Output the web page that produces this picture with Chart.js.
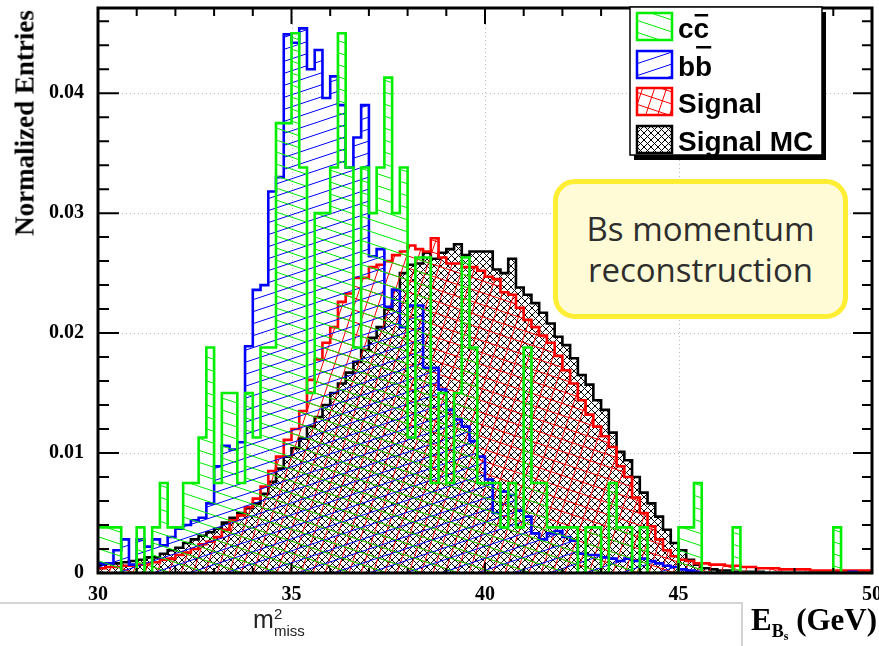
<!DOCTYPE html>
<html>
<head>
<meta charset="utf-8">
<script src="https://cdn.jsdelivr.net/npm/chart.js@4.4.1/dist/chart.umd.min.js"></script>
<style>
  html, body { margin: 0; padding: 0; background: #fff; }
  #wrap { position: relative; width: 879px; height: 646px; overflow: hidden; background: #fff; }
  #myChart { position: absolute; left: 0; top: 0; }
  .ytitle { position: absolute; left: 25px; top: 123px; transform: translate(-50%, -50%) rotate(-90deg);
            font: bold 27px "Liberation Serif", serif; white-space: nowrap; color: #000; }
  .xtitle { position: absolute; left: 751px; top: 602px; font: bold 31px "Liberation Serif", serif; white-space: nowrap; color: #000; }
  .xtitle .sub { font-size: 18px; position: relative; top: 7px; }
  .xtitle .sub2 { font-size: 12px; position: relative; top: 3px; }
  .mmiss { position: absolute; left: 253px; top: 605px; font: 25px "Liberation Sans", sans-serif; color: #222; }
  .mmiss .sup { position: absolute; left: 21px; top: 0px; font-size: 15px; }
  .mmiss .sub { position: absolute; left: 21px; top: 17px; font-size: 15px; }
  .hline { position: absolute; left: 0; top: 602px; width: 741px; height: 2px; background: #d4d4d4; }
  .vline { position: absolute; left: 741px; top: 602px; width: 2px; height: 44px; background: #d4d4d4; }
  .note { position: absolute; left: 553px; top: 179px; width: 285px; height: 130px; border: 5px solid #ffee33;
          border-radius: 22px; background: #fffbd6; display: flex; align-items: center; justify-content: center;
          text-align: center; font: 33px "Open Sans", sans-serif; line-height: 41px; color: #2e2e2e; }
</style>
</head>
<body>
<div id="wrap">
  <canvas id="myChart" width="879" height="646"></canvas>
  <div class="ytitle">Normalized Entries</div>
  <div class="hline"></div>
  <div class="vline"></div>
  <div class="mmiss">m<span class="sup">2</span><span class="sub">miss</span></div>
  <div class="xtitle">E<span class="sub">B<span class="sub2">s</span></span> (GeV)</div>
  <div class="note">Bs momentum<br>reconstruction</div>
</div>
<script>
// histogram binning: 100 bins of 0.2 GeV from 30 to 50
const binStart = 30;
const binWidth = 0.2;

const xTicks = [30, 35, 40, 45, 50];
const yTicks = [0, 0.01, 0.02, 0.03, 0.04];
const yTickLabels = ['0', '0.01', '0.02', '0.03', '0.04'];

const ccbar = [
    0.0038, 0.0038, 0.0038, 0, 0, 0.0038, 0, 0.0038, 0.0075, 0.0038,
    0.0038, 0.0075, 0.0075, 0.0113, 0.0188, 0.0075, 0.015, 0.015, 0.0075, 0.015,
    0.0113, 0.0188, 0.0188, 0.0375, 0.0375, 0.045, 0.0338, 0.015, 0.03, 0.03,
    0.0338, 0.045, 0.0338, 0.0188, 0.0338, 0.03, 0.0338, 0.0413, 0.03, 0.0338,
    0.0113, 0.0263, 0.0263, 0.0075, 0.015, 0.0075, 0.015, 0.0263, 0.0188, 0.0075,
    0.0075, 0.0075, 0.0038, 0.0075, 0.0038, 0.0188, 0.0075, 0.0075, 0.0038, 0.0038,
    0.0038, 0.0038, 0, 0.0038, 0.0038, 0, 0.0075, 0.0038, 0.0038, 0,
    0.0038, 0, 0, 0, 0, 0.0038, 0.0038, 0.0075, 0, 0,
    0, 0, 0.0038, 0, 0, 0, 0, 0, 0, 0,
    0, 0, 0, 0, 0, 0.0038, 0, 0, 0, 0
];

const bbbar = [
    0.0008, 0.0008, 0.0019, 0.0028, 0.0007, 0.0028, 0.0022, 0.0028, 0.0023, 0.003,
    0.0037, 0.004, 0.0044, 0.0046, 0.0058, 0.0089, 0.0106, 0.0103, 0.0109, 0.0189,
    0.0236, 0.024, 0.0318, 0.033, 0.0449, 0.0442, 0.0454, 0.042, 0.0436, 0.0396,
    0.0414, 0.039, 0.0338, 0.0363, 0.039, 0.0264, 0.027, 0.0222, 0.0236, 0.0205,
    0.0223, 0.0223, 0.0171, 0.0171, 0.0153, 0.0136, 0.0128, 0.0122, 0.011, 0.0097,
    0.0078, 0.005, 0.0068, 0.0065, 0.0052, 0.0047, 0.0033, 0.0028, 0.0033, 0.0035,
    0.003, 0.0027, 0.0016, 0.0015, 0.0015, 0.0013, 0.0012, 0.001, 0.0012, 0.001,
    0.0012, 0.001, 0.0008, 0.0006, 0.0005, 0.0003, 0.0002, 0.0001, 0, 0,
    0, 0, 0, 0, 0, 0, 0, 0, 0, 0,
    0, 0, 0, 0, 0, 0, 0, 0.0001, 0, 0
];

const signal = [
    0.0004, 0.0005, 0.0005, 0.0006, 0.0006, 0.0007, 0.0008, 0.0009, 0.0011, 0.0012,
    0.0015, 0.0017, 0.002, 0.0024, 0.0026, 0.003, 0.0036, 0.0044, 0.0048, 0.0055,
    0.0062, 0.0072, 0.0085, 0.0097, 0.0111, 0.012, 0.0135, 0.0161, 0.0178, 0.0192,
    0.0205, 0.0226, 0.0233, 0.0246, 0.0246, 0.0255, 0.0257, 0.026, 0.0265, 0.0268,
    0.0273, 0.027, 0.0268, 0.0279, 0.0263, 0.0258, 0.0258, 0.0255, 0.0255, 0.0252,
    0.0247, 0.0245, 0.0234, 0.0232, 0.0221, 0.0211, 0.0205, 0.0198, 0.0192, 0.0181,
    0.0169, 0.0158, 0.0144, 0.0132, 0.0122, 0.0114, 0.0105, 0.0089, 0.008, 0.0063,
    0.005, 0.0039, 0.0028, 0.0019, 0.0014, 0.0011, 0.001, 0.0008, 0.0008, 0.0007,
    0.0007, 0.0006, 0.0006, 0.0005, 0.0005, 0.0004, 0.0004, 0.0004, 0.0003, 0.0003,
    0.0003, 0.0003, 0.0002, 0.0002, 0.0002, 0.0002, 0.0002, 0.0002, 0.0002, 0.0002
];

const signalMC = [
    0.0007, 0.0008, 0.0008, 0.0009, 0.001, 0.0011, 0.0013, 0.0013, 0.0016, 0.0019,
    0.0021, 0.0025, 0.0028, 0.0031, 0.0034, 0.0037, 0.0042, 0.0046, 0.005, 0.0054,
    0.0058, 0.0066, 0.0076, 0.0087, 0.0097, 0.0104, 0.0112, 0.0122, 0.013, 0.014,
    0.015, 0.0158, 0.0167, 0.0176, 0.0186, 0.0196, 0.0205, 0.022, 0.0236, 0.025,
    0.0257, 0.0258, 0.0267, 0.0262, 0.0267, 0.027, 0.0274, 0.0265, 0.0268, 0.0268,
    0.0268, 0.0253, 0.025, 0.0262, 0.0238, 0.0232, 0.0225, 0.0217, 0.0208, 0.0197,
    0.019, 0.0179, 0.0165, 0.0157, 0.0144, 0.0136, 0.0117, 0.0101, 0.0094, 0.008,
    0.0067, 0.0058, 0.0047, 0.0036, 0.0025, 0.0019, 0.0011, 0.0007, 0.0004, 0.0003,
    0.0002, 0.0002, 0.0001, 0.0001, 0.0001, 0.0001, 0, 0, 0, 0,
    0, 0, 0, 0, 0, 0, 0, 0, 0, 0
];

const GREEN = '#00ee00';
const BLUE = '#0000ff';
const RED = '#ff0000';
const BLACK = '#000000';

// hatch fills like ROOT fill styles
function makePattern(w, h, color, lw, draw) {
    const c = document.createElement('canvas');
    c.width = w;
    c.height = h;
    const g = c.getContext('2d');
    g.strokeStyle = color;
    g.lineWidth = lw;
    g.beginPath();
    draw(g, w, h);
    g.stroke();
    return g.createPattern(c, 'repeat');
}

const greenFill = makePattern(36, 12, GREEN, 1, (g, w, h) => {
    for (let k = -1; k <= 1; k++) { g.moveTo(0, k * h); g.lineTo(w, h + k * h); }
});
const blueFill = makePattern(36, 12, BLUE, 1, (g, w, h) => {
    for (let k = -1; k <= 1; k++) { g.moveTo(0, h + k * h); g.lineTo(w, k * h); }
});
const redFill = makePattern(36, 36, RED, 1, (g, w, h) => {
    for (let b = -12; b <= 36; b += 12) { g.moveTo(0, b); g.lineTo(36, b + 12); }
    for (let c = 0; c <= 48; c += 12) { g.moveTo(c, 0); g.lineTo(c - 12, 36); }
});
const blackFill = makePattern(7, 7, BLACK, 1, (g, w, h) => {
    g.moveTo(-1, -1); g.lineTo(8, 8);
    g.moveTo(-1, 8); g.lineTo(8, -1);
});

function toSteps(values) {
    const pts = values.map((v, i) => ({ x: binStart + i * binWidth, y: v }));
    pts.push({ x: binStart + values.length * binWidth, y: values[values.length - 1] });
    return pts;
}

function histo(label, values, color, fill) {
    return {
        label: label,
        data: toSteps(values),
        stepped: 'before',
        borderColor: color,
        borderWidth: 2.6,
        backgroundColor: fill,
        fill: 'origin',
        pointRadius: 0,
        tension: 0
    };
}

const framePlugin = {
    id: 'rootFrame',
    beforeDatasetsDraw(chart) {
        const { ctx, chartArea: a, scales: { x, y } } = chart;
        ctx.save();
        ctx.strokeStyle = '#b8b8b8';
        ctx.lineWidth = 1;
        ctx.setLineDash([1, 3]);
        yTicks.slice(1).forEach(v => {
            const py = Math.round(y.getPixelForValue(v)) + 0.5;
            ctx.beginPath(); ctx.moveTo(a.left, py); ctx.lineTo(a.right, py); ctx.stroke();
        });
        xTicks.slice(1, -1).forEach(v => {
            const px = Math.round(x.getPixelForValue(v)) + 0.5;
            ctx.beginPath(); ctx.moveTo(px, a.top); ctx.lineTo(px, a.bottom); ctx.stroke();
        });
        ctx.restore();
    },
    afterDatasetsDraw(chart) {
        const { ctx, chartArea: a, scales: { x, y } } = chart;
        ctx.save();
        ctx.strokeStyle = '#000';
        ctx.lineWidth = 2;
        ctx.beginPath();
        // y ticks, left and right
        for (let v = 0; v <= y.max + 1e-9; v += 0.002) {
            const major = Math.abs(v / 0.01 - Math.round(v / 0.01)) < 1e-6;
            const py = y.getPixelForValue(v);
            ctx.moveTo(a.left, py); ctx.lineTo(a.left + (major ? 21 : 11), py);
            ctx.moveTo(a.right, py); ctx.lineTo(a.right - (major ? 19 : 10), py);
        }
        // x ticks, top and bottom
        for (let v = x.min; v <= x.max + 1e-9; v += 1) {
            const major = v % 5 === 0;
            const px = x.getPixelForValue(v);
            ctx.moveTo(px, a.top); ctx.lineTo(px, a.top + (major ? 16 : 8));
            ctx.moveTo(px, a.bottom); ctx.lineTo(px, a.bottom - (major ? 10 : 5));
        }
        ctx.stroke();
        ctx.lineWidth = 3;
        ctx.strokeRect(a.left, a.top, a.right - a.left, a.bottom - a.top);
        ctx.restore();
    },
    afterDraw(chart) {
        const ctx = chart.ctx;
        ctx.save();
        // legend box with shadow
        ctx.fillStyle = '#000';
        ctx.fillRect(634, 12, 192, 148);
        ctx.fillStyle = '#fff';
        ctx.fillRect(630, 7, 192, 148);
        ctx.strokeStyle = '#000';
        ctx.lineWidth = 1.5;
        ctx.strokeRect(630, 7, 192, 148);

        const rows = [
            { top: 13, color: GREEN, fill: greenFill, text: 'c', bar: 'c' },
            { top: 51, color: BLUE, fill: blueFill, text: 'b', bar: 'b' },
            { top: 88, color: RED, fill: redFill, text: 'Signal' },
            { top: 126, color: BLACK, fill: blackFill, text: 'Signal MC' }
        ];
        ctx.font = 'bold 28px "Liberation Sans", sans-serif';
        ctx.textBaseline = 'alphabetic';
        rows.forEach(r => {
            ctx.fillStyle = '#fff';
            ctx.fillRect(637, r.top, 35, 27);
            ctx.fillStyle = r.fill;
            ctx.fillRect(637, r.top, 35, 27);
            ctx.strokeStyle = r.color;
            ctx.lineWidth = 2.5;
            ctx.strokeRect(637, r.top, 35, 27);
            ctx.fillStyle = '#000';
            const base = r.top + 25;
            ctx.fillText(r.text, 678, base);
            if (r.bar) {
                const w1 = ctx.measureText(r.text).width;
                const w2 = ctx.measureText(r.bar).width;
                ctx.fillText(r.bar, 678 + w1, base);
                const oy = r.bar === 'c' ? base - 24 : base - 30;
                ctx.fillRect(678 + w1 + 1, oy, w2 - 2, 2.5);
            }
        });
        ctx.restore();
    }
};

const ctx = document.getElementById('myChart').getContext('2d');
new Chart(ctx, {
    type: 'line',
    data: {
        datasets: [
            histo('c\u0305c', ccbar, GREEN, greenFill),
            histo('bb\u0305', bbbar, BLUE, blueFill),
            histo('Signal', signal, RED, redFill),
            histo('Signal MC', signalMC, BLACK, blackFill)
        ]
    },
    options: {
        responsive: false,
        animation: false,
        layout: { padding: { left: 0, right: 7, top: 8, bottom: 0 } },
        plugins: { legend: { display: false }, tooltip: { enabled: false } },
        scales: {
            x: {
                type: 'linear',
                min: 30,
                max: 50,
                afterBuildTicks: s => { s.ticks = xTicks.map(v => ({ value: v })); },
                afterFit: s => { s.height = 73; s.paddingLeft = 0; s.paddingRight = 0; },
                grid: { display: false, drawTicks: false },
                border: { display: false },
                ticks: {
                    font: { family: '"Liberation Serif", serif', weight: 'bold', size: 20 },
                    color: '#000',
                    padding: 10,
                    maxRotation: 0,
                    autoSkip: false
                }
            },
            y: {
                min: 0,
                max: 0.0471,
                afterBuildTicks: s => { s.ticks = yTicks.map(v => ({ value: v })); },
                afterFit: s => { s.width = 98; s.paddingTop = 0; s.paddingBottom = 0; },
                grid: { display: false, drawTicks: false },
                border: { display: false },
                ticks: {
                    font: { family: '"Liberation Serif", serif', weight: 'bold', size: 20 },
                    color: '#000',
                    padding: 14,
                    callback: v => yTickLabels[yTicks.indexOf(v)] ?? ''
                }
            }
        }
    },
    plugins: [framePlugin]
});
</script>
</body>
</html>
